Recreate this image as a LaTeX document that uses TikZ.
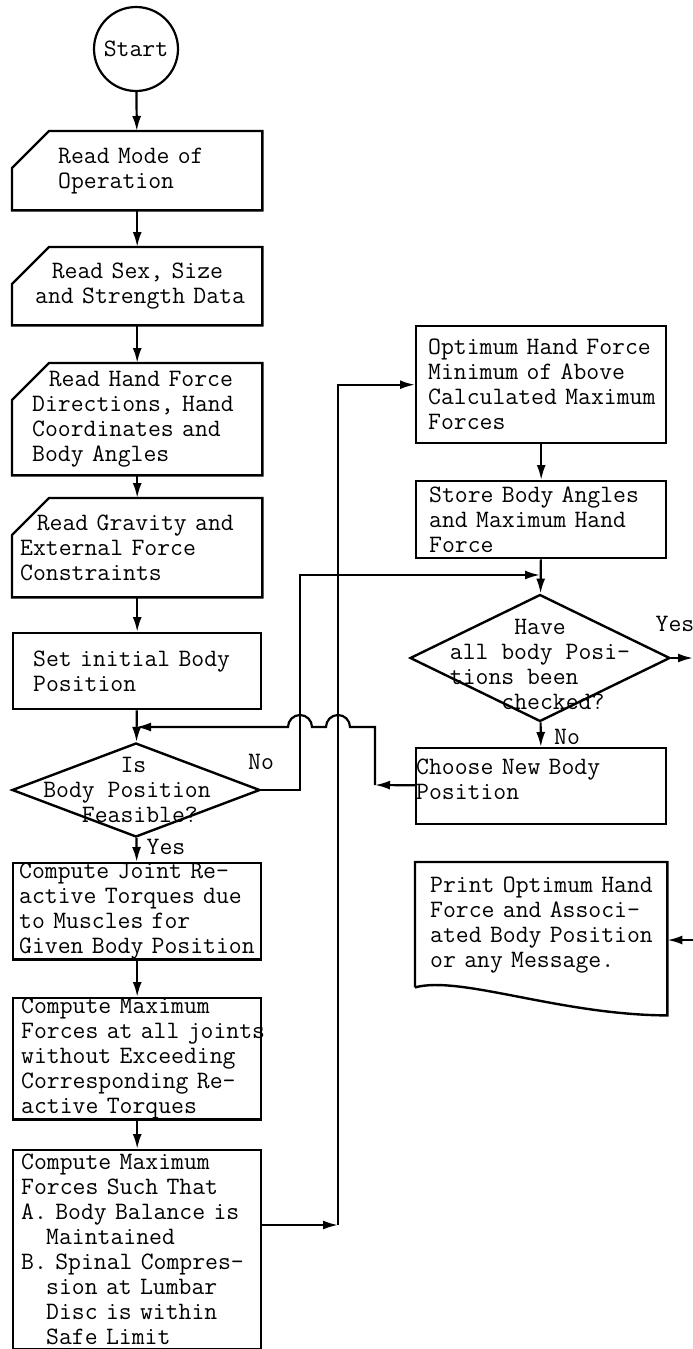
\documentclass[tikz,border=0pt]{standalone}
\usetikzlibrary{arrows.meta,shapes.geometric}
\newcommand\tw{\ttfamily\fontsize{25}{25}\selectfont}
\tikzset{
  box/.style={draw, line width=2.4pt, anchor=north west, inner sep=0pt,
    text width=248pt, align=left, font=\tw},
  rdbox/.style={box, draw=none},
  pad/.style={execute at begin node={\leftskip=#1\rightskip=-30pt plus 1fil\relax}},
  outline/.style={line width=2.4pt},
  cond/.style={diamond, draw, line width=2.4pt, inner sep=0pt},
  lbl/.style={font=\tw},
  arr/.style={line width=2.2pt, -{Latex[length=15pt,width=9pt]}},
}
\begin{document}
\begin{tikzpicture}[x=1pt,y=-1pt]
\fill[white] (0,0) rectangle (693,1349);
\useasboundingbox (0,0) rectangle (693,1349);
% left column
\node[circle, draw, line width=2.2pt, minimum size=84pt, inner sep=0pt, font=\tw] (start) at (136,49) {Start};
\node[rdbox, minimum height=77pt, pad=45pt] (rd1) at (12,131) {Read Mode of\\Operation};
\node[rdbox, minimum height=76pt, pad=22pt] (rd2) at (12,247) {~~Read Sex, Size\\and Strength Data};
\node[rdbox, minimum height=110pt, pad=19pt] (rd3) at (12,363) {~~Read Hand Force\\Directions, Hand\\Coordinates and\\Body Angles};
\node[rdbox, minimum height=97pt, pad=7pt] (rd4) at (12,498) {~~Read Gravity and\\External Force\\Constraints};
\foreach \n in {rd1,rd2,rd3,rd4}
  \draw[outline] ([xshift=37pt]\n.north west) -- (\n.north east) -- (\n.south east) -- (\n.south west) -- ([yshift=-37pt]\n.north west) -- cycle;
\node[box, minimum height=76pt, pad=20pt] (setpos) at (12,632) {Set initial Body\\Position};
\node[cond, minimum width=248pt, minimum height=94pt,
  label={[lbl, align=left, xshift=-9pt]center:~~~~~~Is\\Body Position\\~~~Feasible?}] (feas) at (136,790) {};
\node[box, minimum height=96pt, pad=6pt] (comp1) at (12,862) {Compute Joint Re-\\active Torques due\\to Muscles for\\Given Body Position};
\node[box, minimum height=115pt, pad=8pt] (comp2) at (12,997) {Compute Maximum\\Forces at all joints\\without Exceeding\\Corresponding Re-\\active Torques};
\node[box, minimum height=199pt, pad=8pt] (comp3) at (12,1149) {Compute Maximum\\Forces Such That\\A. Body Balance is\\~~~Maintained\\B. Spinal Compres-\\~~~sion at Lumbar\\~~~Disc is within\\~~~Safe Limit};
% right column
\node[box, text width=250pt, minimum height=117pt, pad=12pt] (opt) at (415,325) {Optimum Hand Force\\Minimum of Above\\Calculated Maximum\\Forces};
\node[box, text width=250pt, minimum height=77pt, pad=13pt] (store) at (415,480) {Store Body Angles\\and Maximum Hand\\Force};
\node[cond, minimum width=260pt, minimum height=127pt,
  label={[lbl, align=left, yshift=-6pt]center:~~~~~Have\\all body Posi-\\tions been\\~~~~checked?}] (chk) at (540,658) {};
\node[box, text width=250pt, minimum height=76pt, pad=0pt] (choose) at (415,747) {Choose New Body\\Position\\[-12pt]~};
\node[box, draw=none, text width=250pt, minimum height=123pt, pad=14pt] (print) at (415,862) {Print Optimum Hand\\Force and Associ-\\ated Body Position\\or any Message.};
\draw[outline] (print.south west) -- (print.north west) -- (print.north east) -- ([yshift=-28pt]print.south east)
  .. controls (560,1015) and (460,975) .. (print.south west);
% labels
\node[lbl] (yes1) at (166,847) {Yes};
\node[lbl] (no1) at (261,762) {No};
\node[lbl] (yes2) at (675,624) {Yes};
\node[lbl] (no2) at (567,737) {No};
% bends
\coordinate (up) at (338,1225);
\coordinate (nobend) at (300,575);
\coordinate (back) at (375,785);
\coordinate (top) at (375,727);
\coordinate (j1) at (350,727);
\coordinate (j2) at (312,727);
\coordinate (merge) at (136,727);
\coordinate (yesout) at (693,658);
\coordinate (prin) at (693,940);
% connectors
\draw[arr] (start) -- (rd1);
\foreach \a/\b in {rd1/rd2, rd2/rd3, rd3/rd4, rd4/setpos, setpos/feas, feas/comp1, comp1/comp2, comp2/comp3, opt/store, store/chk, chk/choose}
  \draw[arr] (\a) -- (\b);
\draw[arr] (comp3.east |- up) -- (up);
\draw[arr] (up) |- (opt);
\draw[arr] (feas) -| (nobend) -- (nobend -| chk.north);
\draw[arr] (chk) -- (yesout);
\draw[arr] (choose) -- (back);
\draw[arr] (back) -- (top) -- (j1) arc[start angle=0, end angle=180, radius=12pt] -- (j2) arc[start angle=0, end angle=180, radius=12pt] -- (merge);
\draw[arr] (prin) -- (prin -| print.east);
\end{tikzpicture}
\end{document}
